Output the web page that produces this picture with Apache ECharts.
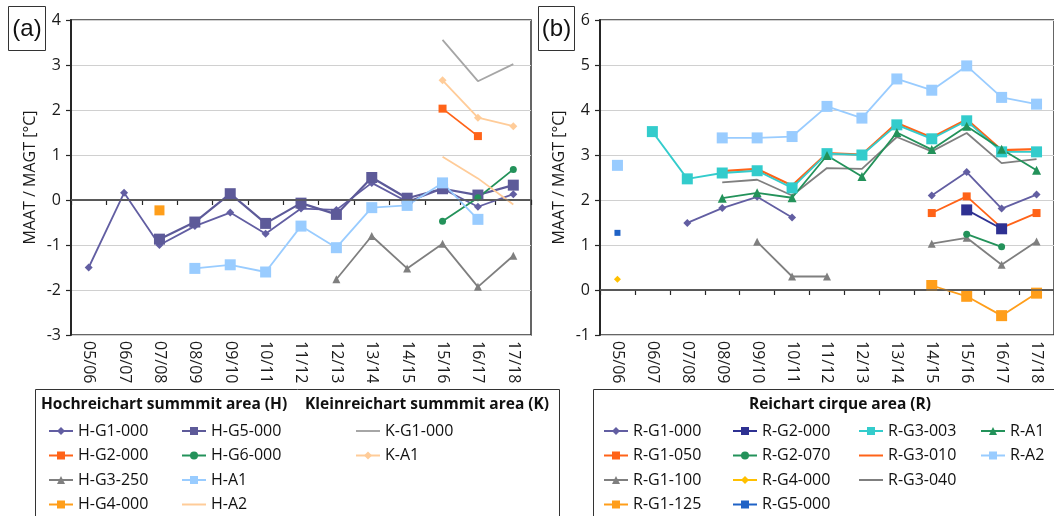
<!DOCTYPE html>
<html>
<head>
<meta charset="utf-8">
<script src="https://cdn.jsdelivr.net/npm/echarts@6/dist/echarts.min.js"></script>
<style>html,body{margin:0;padding:0;background:#fff;}#c{width:1054px;height:516px;}</style>
</head>
<body>
<div id="c"></div>
<script>
const categories = ['05/06','06/07','07/08','08/09','09/10','10/11','11/12','12/13','13/14','14/15','15/16','16/17','17/18'];
const yTicksA = [-3,-2,-1,0,1,2,3,4];
const yTicksB = [-1,0,1,2,3,4,5,6];
const _ = null;
// Panel (a)
const H_G1_000 = [-1.50, 0.16, -1.00, -0.58, -0.28, -0.75, -0.19, -0.22, 0.38, -0.04, 0.25, -0.15, 0.13];
const H_G2_000 = [_, _, _, _, _, _, _, _, _, _, 2.03, 1.42, _];
const H_G3_250 = [_, _, _, _, _, _, _, -1.76, -0.80, -1.52, -0.97, -1.93, -1.24];
const H_G4_000 = [_, _, -0.23, _, _, _, _, _, _, _, _, _, _];
const H_G5_000 = [_, _, -0.87, -0.49, 0.14, -0.52, -0.07, -0.32, 0.50, 0.04, 0.25, 0.11, 0.33];
const H_G6_000 = [_, _, _, _, _, _, _, _, _, _, -0.47, 0.05, 0.68];
const H_A1 = [_, _, _, -1.52, -1.44, -1.60, -0.58, -1.06, -0.17, -0.12, 0.38, -0.43, _];
const H_A2 = [_, _, _, _, _, _, _, _, _, _, 0.96, 0.48, -0.10];
const K_G1_000 = [_, _, _, _, _, _, _, _, _, _, 3.56, 2.64, 3.02];
const K_A1 = [_, _, _, _, _, _, _, _, _, _, 2.66, 1.83, 1.64];
// Panel (b)
const R_G1_000 = [_, _, 1.49, 1.82, 2.07, 1.61, _, _, _, 2.10, 2.62, 1.81, 2.12];
const R_G1_050 = [_, _, _, _, _, _, _, _, _, 1.71, 2.08, 1.38, 1.71];
const R_G1_100 = [_, _, _, _, 1.07, 0.30, 0.30, _, _, 1.03, 1.16, 0.56, 1.08];
const R_G1_125 = [_, _, _, _, _, _, _, _, _, 0.10, -0.14, -0.57, -0.07];
const R_G2_000 = [_, _, _, _, _, _, _, _, _, _, 1.78, 1.36, _];
const R_G2_070 = [_, _, _, _, _, _, _, _, _, _, 1.24, 0.96, _];
const R_G4_000 = [0.24, _, _, _, _, _, _, _, _, _, _, _, _];
const R_G5_000 = [1.27, _, _, _, _, _, _, _, _, _, _, _, _];
const R_G3_003 = [_, 3.52, 2.47, 2.60, 2.65, 2.27, 3.03, 3.00, 3.67, 3.36, 3.76, 3.07, 3.07];
const R_G3_010 = [_, _, _, 2.64, 2.69, 2.32, 3.04, 3.01, 3.71, 3.39, 3.79, 3.11, 3.13];
const R_G3_040 = [_, _, _, 2.39, 2.45, 2.10, 2.71, 2.69, 3.40, 3.08, 3.49, 2.82, 2.91];
const R_A1 = [_, _, _, 2.04, 2.16, 2.05, 2.99, 2.52, 3.50, 3.12, 3.64, 3.13, 2.66];
const R_A2 = [2.77, _, _, 3.38, 3.38, 3.41, 4.08, 3.82, 4.69, 4.44, 4.98, 4.28, 4.13];

const FONT = 'Open Sans';
const PURPLE = '#625EA2', PURPLE2 = '#5D5A99', ORED = '#FF6318', GRAY = '#7F7F7F', ORANGE = '#FF9E1A',
      GREEN = '#23925A', LBLUE = '#99CCFF', PEACH = '#FFCC99', LGRAY = '#A6A6A6', DBLUE = '#2E3192',
      TURQ = '#33CCCC', YELLOW = '#FFC000', BLUE = '#1F62C6';

function s(name, data, idx, color, symbol, size, lw) {
  return {
    name, type: 'line', data, xAxisIndex: idx, yAxisIndex: idx,
    symbol: symbol, symbolSize: size, showSymbol: symbol !== 'none',
    connectNulls: false,
    lineStyle: { color, width: lw || 1.8 },
    itemStyle: { color, borderWidth: 0 },
    emphasis: { disabled: true }
  };
}
function zeroLine() {
  return { silent: true, symbol: ['none','none'], label: { show: false },
    lineStyle: { color: '#5a5a5a', width: 1.5, type: 'solid' }, data: [{ yAxis: 0 }], animation: false };
}

const series = [
  s('H-G1-000', H_G1_000, 0, PURPLE, 'diamond', 8),
  s('H-G2-000', H_G2_000, 0, ORED, 'rect', 8),
  s('H-G3-250', H_G3_250, 0, GRAY, 'triangle', 8),
  s('H-G4-000', H_G4_000, 0, ORANGE, 'rect', 10),
  s('H-G5-000', H_G5_000, 0, PURPLE2, 'rect', 11, 2.2),
  s('H-G6-000', H_G6_000, 0, GREEN, 'circle', 7),
  s('H-A1', H_A1, 0, LBLUE, 'rect', 11),
  s('H-A2', H_A2, 0, PEACH, 'none', 0),
  s('K-G1-000', K_G1_000, 0, LGRAY, 'none', 0),
  s('K-A1', K_A1, 0, PEACH, 'diamond', 8),

  s('R-G1-000', R_G1_000, 1, PURPLE, 'diamond', 8),
  s('R-G1-050', R_G1_050, 1, ORED, 'rect', 8),
  s('R-G1-100', R_G1_100, 1, GRAY, 'triangle', 8),
  s('R-G1-125', R_G1_125, 1, ORANGE, 'rect', 11),
  s('R-G2-000', R_G2_000, 1, DBLUE, 'rect', 11),
  s('R-G2-070', R_G2_070, 1, GREEN, 'circle', 7),
  s('R-G4-000', R_G4_000, 1, YELLOW, 'diamond', 7),
  s('R-G5-000', R_G5_000, 1, BLUE, 'rect', 6),
  s('R-G3-040', R_G3_040, 1, GRAY, 'none', 0),
  s('R-G3-010', R_G3_010, 1, ORED, 'none', 0, 2.2),
  s('R-G3-003', R_G3_003, 1, TURQ, 'rect', 11),
  s('R-A1', R_A1, 1, GREEN, 'triangle', 9),
  s('R-A2', R_A2, 1, LBLUE, 'rect', 11)
];
series[0].markLine = zeroLine();
series[10].markLine = zeroLine();

function xAxis(idx) {
  return {
    type: 'category', gridIndex: idx, data: categories, boundaryGap: true,
    axisLine: { show: true, lineStyle: { color: '#262626', width: 1.5 } },
    axisTick: { show: true, inside: false, length: 5, lineStyle: { color: '#262626', width: 1.2 } },
    axisLabel: { rotate: -90, margin: 6, fontFamily: FONT, fontSize: 16, color: '#1a1a1a', interval: 0 },
    splitLine: { show: false }
  };
}
function yAxis(idx, min, max) {
  return {
    type: 'value', gridIndex: idx, min, max, interval: 1,
    name: 'MAAT / MAGT [°C]', nameLocation: 'middle', nameGap: 33, nameRotate: 90,
    nameTextStyle: { fontFamily: FONT, fontSize: 16, color: '#1a1a1a' },
    axisLine: { show: true, lineStyle: { color: '#262626', width: 2 } },
    axisTick: { show: true, inside: false, length: 5, lineStyle: { color: '#262626', width: 1.2 } },
    axisLabel: { margin: 10, fontFamily: FONT, fontSize: 16, color: '#1a1a1a' },
    splitLine: { show: true, lineStyle: { color: '#d0d0d0', width: 1.2 } }
  };
}

const LINE_ICON = 'path://M0,0H24V2H0Z';
const plainLines = ['H-A2', 'K-G1-000', 'R-G3-010', 'R-G3-040'];
function legend(left, names) {
  return {
    left, top: 423, height: 120, orient: 'vertical',
    data: names.map(n => plainLines.includes(n) ? { name: n, icon: LINE_ICON } : { name: n }),
    itemWidth: 24, itemHeight: 10, itemGap: 8.5,
    selectedMode: false, padding: 0,
    textStyle: { fontFamily: FONT, fontSize: 16, color: '#111', lineHeight: 16 }
  };
}

const option = {
  animation: false,
  backgroundColor: '#fff',
  grid: [
    { left: 71, top: 20, width: 460, height: 315, show: true, borderColor: '#333', borderWidth: 1.5, backgroundColor: 'transparent' },
    { left: 600, top: 20, width: 456, height: 315, show: true, borderColor: '#333', borderWidth: 1.5, backgroundColor: 'transparent' }
  ],
  xAxis: [xAxis(0), xAxis(1)],
  yAxis: [yAxis(0, yTicksA[0], yTicksA[yTicksA.length - 1]), yAxis(1, yTicksB[0], yTicksB[yTicksB.length - 1])],
  legend: [
    legend(48, ['H-G1-000','H-G2-000','H-G3-250','H-G4-000']),
    legend(181, ['H-G5-000','H-G6-000','H-A1','H-A2']),
    legend(355, ['K-G1-000','K-A1']),
    legend(603, ['R-G1-000','R-G1-050','R-G1-100','R-G1-125']),
    legend(732, ['R-G2-000','R-G2-070','R-G4-000','R-G5-000']),
    legend(858, ['R-G3-003','R-G3-010','R-G3-040']),
    legend(980, ['R-A1','R-A2'])
  ],
  graphic: [
    { type: 'rect', shape: { x: 8.5, y: 6.5, width: 37, height: 44 }, style: { fill: 'none', stroke: '#333', lineWidth: 1 } },
    { type: 'text', x: 27, y: 29, style: { text: '(a)', font: '24px "Liberation Sans"', fill: '#111', textAlign: 'center', textVerticalAlign: 'middle' } },
    { type: 'rect', shape: { x: 538.5, y: 6.5, width: 36, height: 44 }, style: { fill: 'none', stroke: '#333', lineWidth: 1 } },
    { type: 'text', x: 556.5, y: 29, style: { text: '(b)', font: '24px "Liberation Sans"', fill: '#111', textAlign: 'center', textVerticalAlign: 'middle' } },
    { type: 'rect', shape: { x: 35.5, y: 389.5, width: 524, height: 140 }, style: { fill: 'none', stroke: '#333', lineWidth: 1 } },
    { type: 'rect', shape: { x: 593.5, y: 389.5, width: 480, height: 140 }, style: { fill: 'none', stroke: '#333', lineWidth: 1 } },
    { type: 'text', x: 41, y: 405, style: { text: 'Hochreichart summmit area (H)', font: 'bold 15.5px "Open Sans"', fill: '#111', textVerticalAlign: 'middle' } },
    { type: 'text', x: 305, y: 405, style: { text: 'Kleinreichart summmit area (K)', font: 'bold 15.5px "Open Sans"', fill: '#111', textVerticalAlign: 'middle' } },
    { type: 'text', x: 840, y: 405, style: { text: 'Reichart cirque area (R)', font: 'bold 15.5px "Open Sans"', fill: '#111', textAlign: 'center', textVerticalAlign: 'middle' } }
  ],
  series
};
const chart = echarts.init(document.getElementById('c'), null, { renderer: 'canvas' });
chart.setOption(option);
</script>
</body>
</html>
